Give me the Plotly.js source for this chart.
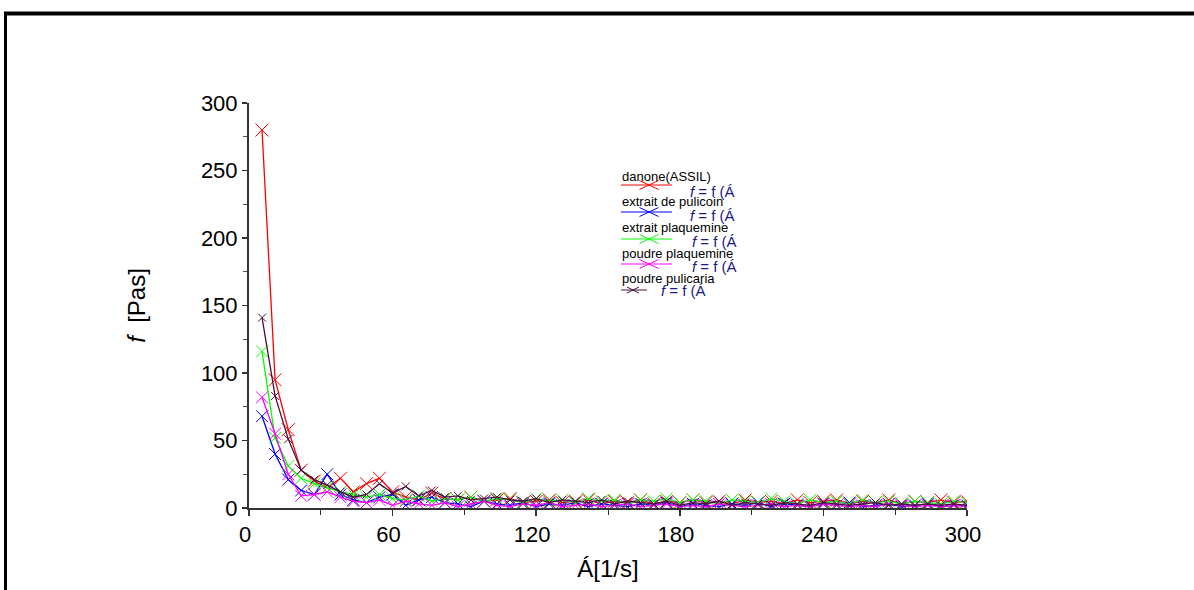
<!DOCTYPE html>
<html>
<head>
<meta charset="utf-8">
<script src="https://cdn.plot.ly/plotly-3.0.1.min.js"></script>
<style>
html,body{margin:0;padding:0;background:#fff;}
#chart{width:1194px;height:590px;}
</style>
</head>
<body>
<div id="chart"></div>
<script>
// Shear rate (1/s)
const shearRate = [5.45, 10.9, 16.4, 21.8, 27.3, 32.7, 38.2, 43.6, 49.1, 54.5,
  60, 65.5, 70.9, 76.4, 81.8, 87.3, 92.7, 98.2, 103.6, 109.1,
  114.5, 120, 125.5, 130.9, 136.4, 141.8, 147.3, 152.7, 158.2, 163.6,
  169.1, 174.5, 180, 185.5, 190.9, 196.4, 201.8, 207.3, 212.7, 218.2,
  223.6, 229.1, 234.5, 240, 245.5, 250.9, 256.4, 261.8, 267.3, 272.7,
  278.2, 283.6, 289.1, 294.5, 300];

const seriesNames = ["danone(ASSIL)", "extrait de pulicoin", "extrait plaquemine", "poudre plaquemine", "poudre pulicaria"];

const danone = [280, 95, 58, 28, 20, 15, 22, 12, 18, 22,
  12, 8, 6, 11, 7, 6, 8, 5, 6, 7,
  4, 5, 6, 4, 5, 6, 3, 5, 4, 6,
  3, 5, 4, 6, 4, 5, 3, 6, 4, 5,
  3, 6, 4, 5, 6, 3, 5, 4, 6, 3,
  5, 4, 6, 4, 5];
const extraitPulicoin = [68, 40, 21, 13, 10, 25, 10, 6, 4, 8,
  10, 2, 6, 8, 4, 3, 1, 5, 3, 2,
  4, 1, 3, 2, 4, 1, 3, 2, 1, 3,
  2, 4, 1, 3, 2, 1, 3, 2, 4, 1,
  3, 2, 1, 3, 2, 4, 1, 2, 3, 1,
  2, 3, 1, 2, 2];
const extraitPlaquemine = [116, 52, 31, 22, 18, 15, 12, 10, 8, 10,
  7, 6, 9, 5, 7, 6, 8, 5, 7, 6,
  4, 7, 5, 6, 4, 7, 5, 6, 3, 6,
  5, 7, 4, 6, 5, 3, 6, 5, 4, 7,
  5, 3, 6, 4, 5, 3, 6, 4, 5, 3,
  5, 4, 3, 5, 4];
const poudrePlaquemine = [82, 55, 25, 9, 10, 12, 8, 5, 4, 6,
  2, 5, 3, 2, 4, 1, 3, 5, 2, 1,
  3, 2, 4, 1, 2, 3, 1, 2, 3, 1,
  2, 3, 1, 2, 1, 3, 2, 1, 2, 3,
  1, 2, 1, 3, 2, 1, 2, 1, 3, 2,
  1, 2, 1, 2, 1];
const poudrePulicaria = [141, 83, 51, 28, 21, 17, 12, 8, 10, 18,
  11, 16, 9, 13, 8, 9, 6, 7, 8, 6,
  5, 7, 4, 6, 5, 4, 6, 3, 5, 4,
  3, 5, 2, 4, 3, 5, 2, 4, 3, 2,
  4, 3, 2, 4, 3, 2, 3, 4, 2, 3,
  2, 3, 2, 3, 2];

const seriesValues = [danone, extraitPulicoin, extraitPlaquemine, poudrePlaquemine, poudrePulicaria];
const seriesColors = ["#ff0000", "#0000ff", "#00ff00", "#ff00ff", "#4a0f3e"];
const markerSizes = [13, 12, 12, 12, 8];

const traces = seriesValues.map((vals, i) => ({
  type: "scatter",
  mode: "lines+markers",
  name: seriesNames[i],
  x: shearRate,
  y: vals,
  line: {color: seriesColors[i], width: 1.3},
  marker: {symbol: "x-thin-open", size: markerSizes[i], line: {color: seriesColors[i], width: 1}},
  showlegend: false
}));

// pixel helpers for plot-area geometry
const L = 249, R = 967, T = 103, B = 508;
const px = v => (v - L) / (R - L);
const py = v => (B - v) / (B - T);

const shapes = [];
const annotations = [];

// outer frame
shapes.push({type: "line", xref: "paper", yref: "paper", x0: px(4), x1: px(1200), y0: py(13.5), y1: py(13.5), line: {color: "#000", width: 4}});
shapes.push({type: "line", xref: "paper", yref: "paper", x0: px(5.5), x1: px(5.5), y0: py(12), y1: py(600), line: {color: "#000", width: 3}});

// legend
const legNameY = [176, 201, 227.5, 253, 278];
const legLineY = [185, 212, 239, 264, 290];
const legFX = [688, 688, 690, 690, 659];
const legFY = [191, 215, 241, 266, 290];
for (let i = 0; i < 5; i++) {
  annotations.push({xref: "paper", yref: "paper", x: px(620), y: py(legNameY[i]), xanchor: "left", yanchor: "middle",
    text: seriesNames[i], showarrow: false, font: {family: "Liberation Sans, Arial, sans-serif", size: 13, color: "#000"}});
  annotations.push({xref: "paper", yref: "paper", x: px(legFX[i]), y: py(legFY[i]), xanchor: "left", yanchor: "middle",
    text: "<i>f</i> = f (Á", showarrow: false, font: {family: "Liberation Sans, Arial, sans-serif", size: 15, color: "#1a1a8a"}});
  const x0 = 621, x1 = i === 4 ? 647 : 672, cx = i === 4 ? 633 : 649;
  const hw = i === 4 ? 6 : 9.5, hh = i === 4 ? 3 : 4.5;
  const yy = legLineY[i];
  shapes.push({type: "line", xref: "paper", yref: "paper", x0: px(x0), x1: px(x1), y0: py(yy), y1: py(yy), line: {color: seriesColors[i], width: 1}});
  shapes.push({type: "line", xref: "paper", yref: "paper", x0: px(cx - hw), x1: px(cx + hw), y0: py(yy - hh), y1: py(yy + hh), line: {color: seriesColors[i], width: 1}});
  shapes.push({type: "line", xref: "paper", yref: "paper", x0: px(cx - hw), x1: px(cx + hw), y0: py(yy + hh), y1: py(yy - hh), line: {color: seriesColors[i], width: 1}});
}

const tickFont = {family: "Liberation Sans, Arial, sans-serif", size: 22, color: "#000"};

const layout = {
  width: 1194,
  height: 590,
  margin: {l: L, r: 1194 - R, t: T, b: 590 - B, pad: 0},
  paper_bgcolor: "#fff",
  plot_bgcolor: "#fff",
  showlegend: false,
  xaxis: {
    range: [0, 300],
    tickvals: [0, 60, 120, 180, 240, 300],
    ticktext: ["0", "60", "120", "180", "240", "300"],
    ticks: "outside", ticklen: 6, tickwidth: 1.5, tickcolor: "#333",
    minor: {tickvals: [30, 90, 150, 210, 270], ticks: "outside", ticklen: 5, tickwidth: 1, tickcolor: "#333"},
    showline: true, linecolor: "#333", linewidth: 1.5,
    showgrid: false, zeroline: false,
    tickfont: tickFont,
    ticklabelshift: -4,
    title: {text: "Á[1/s]", font: {family: "Liberation Sans, Arial, sans-serif", size: 24, color: "#000"}, standoff: 14}
  },
  yaxis: {
    range: [0, 300],
    tickvals: [0, 50, 100, 150, 200, 250, 300],
    ticktext: ["0", "50", "100", "150", "200", "250", "300"],
    ticks: "outside", ticklen: 5, tickwidth: 1.5, tickcolor: "#333",
    minor: {tickvals: [25, 75, 125, 175, 225, 275], ticks: "outside", ticklen: 4, tickwidth: 1, tickcolor: "#555"},
    showline: true, linecolor: "#333", linewidth: 2,
    showgrid: false, zeroline: false,
    tickfont: tickFont,
    title: {text: "<i>f</i>  [Pas]", font: {family: "Liberation Sans, Arial, sans-serif", size: 24, color: "#000"}, standoff: 48}
  },
  shapes: shapes,
  annotations: annotations
};

Plotly.newPlot("chart", traces, layout, {displayModeBar: false, staticPlot: true});
</script>
</body>
</html>
